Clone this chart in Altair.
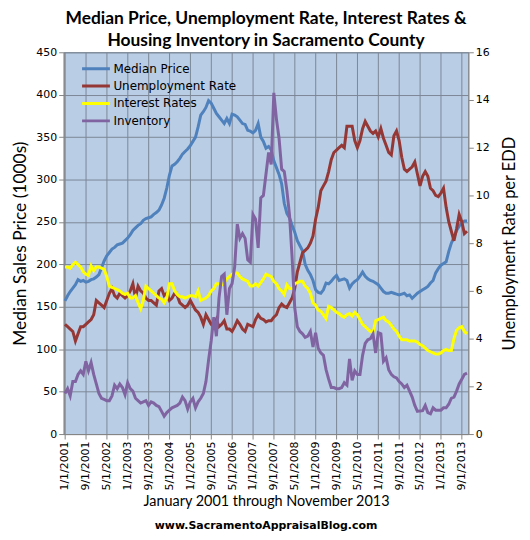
import altair as alt
import pandas as pd

series_names = ["Median Price", "Unemployment Rate", "Interest Rates", "Inventory"]
series_colors = ["#4F81BD", "#953735", "#FFFF00", "#8064A2"]

# month index 0 = Jan 2001 ... 154 = Nov 2013
median_price = [
    157, 163, 168, 172, 176, 182, 180, 181, 179, 180, 182, 183,
    185, 188, 196, 204, 210, 214, 218, 220, 223, 224, 225, 228,
    231, 235, 240, 243, 246, 248, 252, 254, 255, 256, 259, 261,
    264, 270, 278, 290, 305, 316, 318, 321, 325, 330, 333, 336,
    340, 345, 350, 362, 376, 380, 385, 393, 390, 384, 378, 374,
    370, 366, 372, 366, 377, 376, 374, 370, 366, 365, 358, 357,
    355, 358, 366, 350, 345, 337, 339, 335, 322, 314, 306, 295,
    272, 260, 255, 246, 238, 228, 222, 216, 200, 193, 188, 181,
    170, 167, 166, 170, 178, 177, 180, 184, 187, 181, 182, 183,
    181, 172, 177, 180, 182, 186, 191, 186, 183, 181, 180, 178,
    176, 172, 168, 166, 166, 167, 166, 165, 164, 165, 166, 163,
    164, 160, 163, 166, 168, 170, 172, 174, 178, 181, 190, 195,
    199, 201, 203, 215, 225, 232, 240, 245, 249, 251, 251,
]
unemployment = [
    4.6, 4.5, 4.4, 4.3, 3.9, 4.2, 4.5, 4.5, 4.6, 4.7, 4.8, 5.0,
    5.6, 5.5, 5.4, 5.3, 5.6, 5.9, 6.1, 5.8, 5.7, 5.9, 5.8, 5.7,
    5.8, 6.0, 6.3, 5.7, 6.2, 6.0, 5.9, 5.7, 5.6, 5.6, 5.5, 5.4,
    6.0, 6.1, 5.8, 5.9, 5.6, 5.7, 5.9, 5.8, 5.5, 5.4, 5.3, 5.4,
    5.6, 5.4, 5.2, 5.1, 4.9, 4.6, 5.0, 4.8, 4.6, 4.5, 4.8, 4.5,
    4.6, 4.75, 4.4, 4.4, 4.3, 4.5, 4.75, 4.6, 4.4, 4.3, 4.6, 4.55,
    4.5, 4.8, 5.0, 4.85, 4.8, 4.7, 4.75, 4.75, 4.9, 5.0, 5.3, 5.45,
    5.35, 5.3, 5.5, 5.7, 6.1, 6.8, 7.2, 7.6, 7.7, 7.8, 8.0, 8.3,
    9.0, 9.5, 10.2, 10.4, 10.6, 11.0, 11.5, 11.8, 11.9, 12.0, 12.1, 12.0,
    12.9, 12.9, 12.9, 12.3, 12.0, 12.3, 12.8, 13.1, 12.9, 12.7, 12.6, 12.7,
    12.45, 12.8, 12.4, 12.1, 11.8, 11.7, 12.5, 12.7, 12.3, 11.6, 11.1, 11.0,
    11.1, 11.2, 11.4, 10.9, 10.4, 10.8, 11.0, 10.8, 10.3, 10.2, 10.0, 9.95,
    10.1, 10.3, 9.5, 8.9, 8.5, 8.1, 8.6, 9.2, 8.9, 8.4, 8.5,
]
interest_rates = [
    7.0, 7.0, 6.95, 7.1, 7.2, 7.1, 7.0, 6.8, 6.7, 6.65, 7.05, 6.85,
    7.0, 7.0, 6.95, 6.9, 6.6, 6.2, 6.15, 6.1, 6.05, 6.0, 5.9, 5.85,
    5.9, 5.7, 5.7, 5.8, 5.5, 5.25, 5.6, 6.2, 6.1, 6.0, 5.9, 5.8,
    5.7, 5.65, 5.5, 5.7, 6.3, 6.3, 6.0, 5.85, 5.75, 5.75, 5.7, 5.75,
    5.8, 5.8, 5.75, 6.0, 5.6, 5.65, 5.7, 5.8, 6.0, 6.1, 6.3, 6.3,
    6.25, 6.35, 6.5, 6.6, 6.7, 6.75, 6.75, 6.6, 6.5, 6.45, 6.4, 6.2,
    6.2, 6.3, 6.2, 6.35, 6.5, 6.7, 6.65, 6.6, 6.4, 6.3, 6.1, 6.0,
    5.85, 6.25, 6.1, 6.1, 6.3, 6.35, 6.4, 6.4, 6.2, 6.1, 5.9, 5.5,
    5.4, 5.2, 5.15, 5.0, 4.85, 5.35, 5.3, 5.2, 5.1, 5.05, 4.95, 4.9,
    5.0, 5.05, 4.95, 5.1, 5.0, 4.8, 4.6, 4.5, 4.4, 4.3, 4.25, 4.75,
    4.8, 4.85, 4.9, 4.75, 4.7, 4.55, 4.4, 4.3, 4.1, 3.95, 3.95, 3.95,
    3.9, 3.9, 3.9, 3.85, 3.75, 3.7, 3.6, 3.5, 3.45, 3.4, 3.35, 3.35,
    3.4, 3.5, 3.55, 3.5, 3.5, 4.0, 4.35, 4.45, 4.5, 4.3, 4.2,
]
inventory = [
    1.7, 1.9, 1.6, 2.2, 2.2, 2.5, 2.65, 2.5, 3.05, 2.65, 3.0, 2.5,
    2.1, 1.7, 1.5, 1.45, 1.4, 1.4, 1.6, 2.05, 1.9, 2.1, 1.95, 1.65,
    2.15, 1.9, 1.8, 1.5, 1.4, 1.3, 1.35, 1.4, 1.2, 1.35, 1.3, 1.2,
    1.15, 0.95, 0.75, 0.9, 1.0, 1.1, 1.15, 1.2, 1.3, 1.55, 1.4, 1.05,
    1.35, 1.5, 1.1, 1.35, 1.5, 1.7, 2.2, 3.1, 3.9, 4.9, 4.1, 5.7,
    6.6, 6.7, 5.0, 6.1, 6.3, 7.0, 8.8, 8.2, 8.4, 8.2, 7.3, 7.2,
    9.2, 9.0, 7.8, 9.9, 10.0, 10.9, 11.8, 11.3, 14.3, 13.2, 12.4, 11.1,
    11.0, 10.2, 9.2, 7.4, 5.3, 4.5, 4.3, 4.2, 4.05, 4.1, 4.3, 3.65,
    4.25, 3.6, 3.4, 3.3, 2.7, 2.3, 1.95, 1.95, 1.9, 1.9, 1.95, 2.15,
    2.05, 3.15, 2.25, 2.65, 2.5, 2.5, 3.3, 3.8, 3.95, 4.0, 4.2, 3.4,
    4.25, 4.2, 3.05, 3.2, 2.7, 2.5, 2.4, 2.35, 2.2, 2.1, 1.95, 2.05,
    1.8, 1.55, 1.2, 0.95, 0.97, 0.98, 1.2, 0.9, 0.85, 1.1, 1.0, 1.0,
    1.0, 1.1, 1.1, 1.25, 1.5, 1.55, 1.8, 2.1, 2.3, 2.5, 2.55,
]

tick_months = list(range(0, 155, 8))
left_ticks = list(range(0, 451, 50))
right_ticks = list(range(0, 17, 2))

title_lines = ["Median Price, Unemployment Rate, Interest Rates &",
               "Housing Inventory in Sacramento County"]
x_title = "January 2001 through November 2013"
website = "www.SacramentoAppraisalBlog.com"

rows = []
for name, vals in zip(series_names, [median_price, unemployment, interest_rates, inventory]):
    for i, v in enumerate(vals):
        rows.append({"month": i, "series": name, "value": v})
df = pd.DataFrame(rows)

W, H = 407, 384
GRID = "#7c8796"
AXIS = "#868686"

color = alt.Color(
    "series:N",
    scale=alt.Scale(domain=series_names, range=series_colors),
    sort=series_names,
    legend=alt.Legend(
        title=None, orient="none", legendX=17, legendY=9,
        symbolType="stroke", symbolStrokeWidth=3, symbolSize=784,
        clipHeight=15, rowPadding=2.5,
        labelFont="DejaVu Sans", labelFontSize=12, labelColor="black",
        labelOffset=2,
    ),
)

x = alt.X(
    "month:Q",
    scale=alt.Scale(domain=[-0.5, 154.5], nice=False, zero=False),
    axis=alt.Axis(
        values=tick_months,
        labelExpr="(datum.value % 12 + 1) + '/1/' + (2001 + floor(datum.value / 12))",
        labelAngle=270, labelFlush=False, labelOverlap=False,
        grid=True, gridColor=GRID, gridWidth=1,
        tickSize=5, title=x_title, titleFontSize=14.5, titlePadding=4,
    ),
)

price = alt.Chart(df).transform_filter(
    alt.datum.series == "Median Price"
).mark_line(strokeWidth=3).encode(
    x=x,
    y=alt.Y("value:Q",
            scale=alt.Scale(domain=[0, 450], nice=False),
            axis=alt.Axis(values=left_ticks, grid=True, gridColor=GRID, gridWidth=1,
                          title="Median Sales Price (1000s)", titleFontSize=17.5,
                          tickSize=5, labelFlush=False, titlePadding=6)),
    color=color,
)

others = alt.Chart(df).transform_filter(
    alt.datum.series != "Median Price"
).mark_line(strokeWidth=3).encode(
    x=x,
    y=alt.Y("value:Q",
            scale=alt.Scale(domain=[0, 16], nice=False),
            axis=alt.Axis(orient="right", values=right_ticks, grid=False,
                          title="Unemployment Rate per EDD", titleAngle=270,
                          titleBaseline="top",
                          titleFontSize=16.5, tickSize=5, labelFlush=False, titlePadding=12)),
    color=color,
)

web = alt.Chart(pd.DataFrame({"t": [website]})).mark_text(
    font="DejaVu Sans", fontWeight="bold", fontSize=11, color="black"
).encode(text="t:N", x=alt.value(W / 2), y=alt.value(H + 93))

chart = alt.layer(price, others, web).resolve_scale(y="independent").properties(
    width=W, height=H,
    padding={"left": 4, "right": 4, "top": 0, "bottom": 2},
    title=alt.TitleParams(title_lines, font="Lato", fontSize=17.5, fontWeight="bold",
                          anchor="middle", frame="group", lineHeight=22, offset=-3,
                          color="black"),
).configure_view(
    fill="#B9CDE5", stroke=GRID
).configure_axis(
    domainColor=AXIS, tickColor=AXIS, labelFont="DejaVu Sans", labelFontSize=11,
    labelColor="black", titleFont="Lato", titleFontWeight="normal", titleColor="black",
)

chart.save("out.html", embed_options={"renderer": "svg", "actions": False})
